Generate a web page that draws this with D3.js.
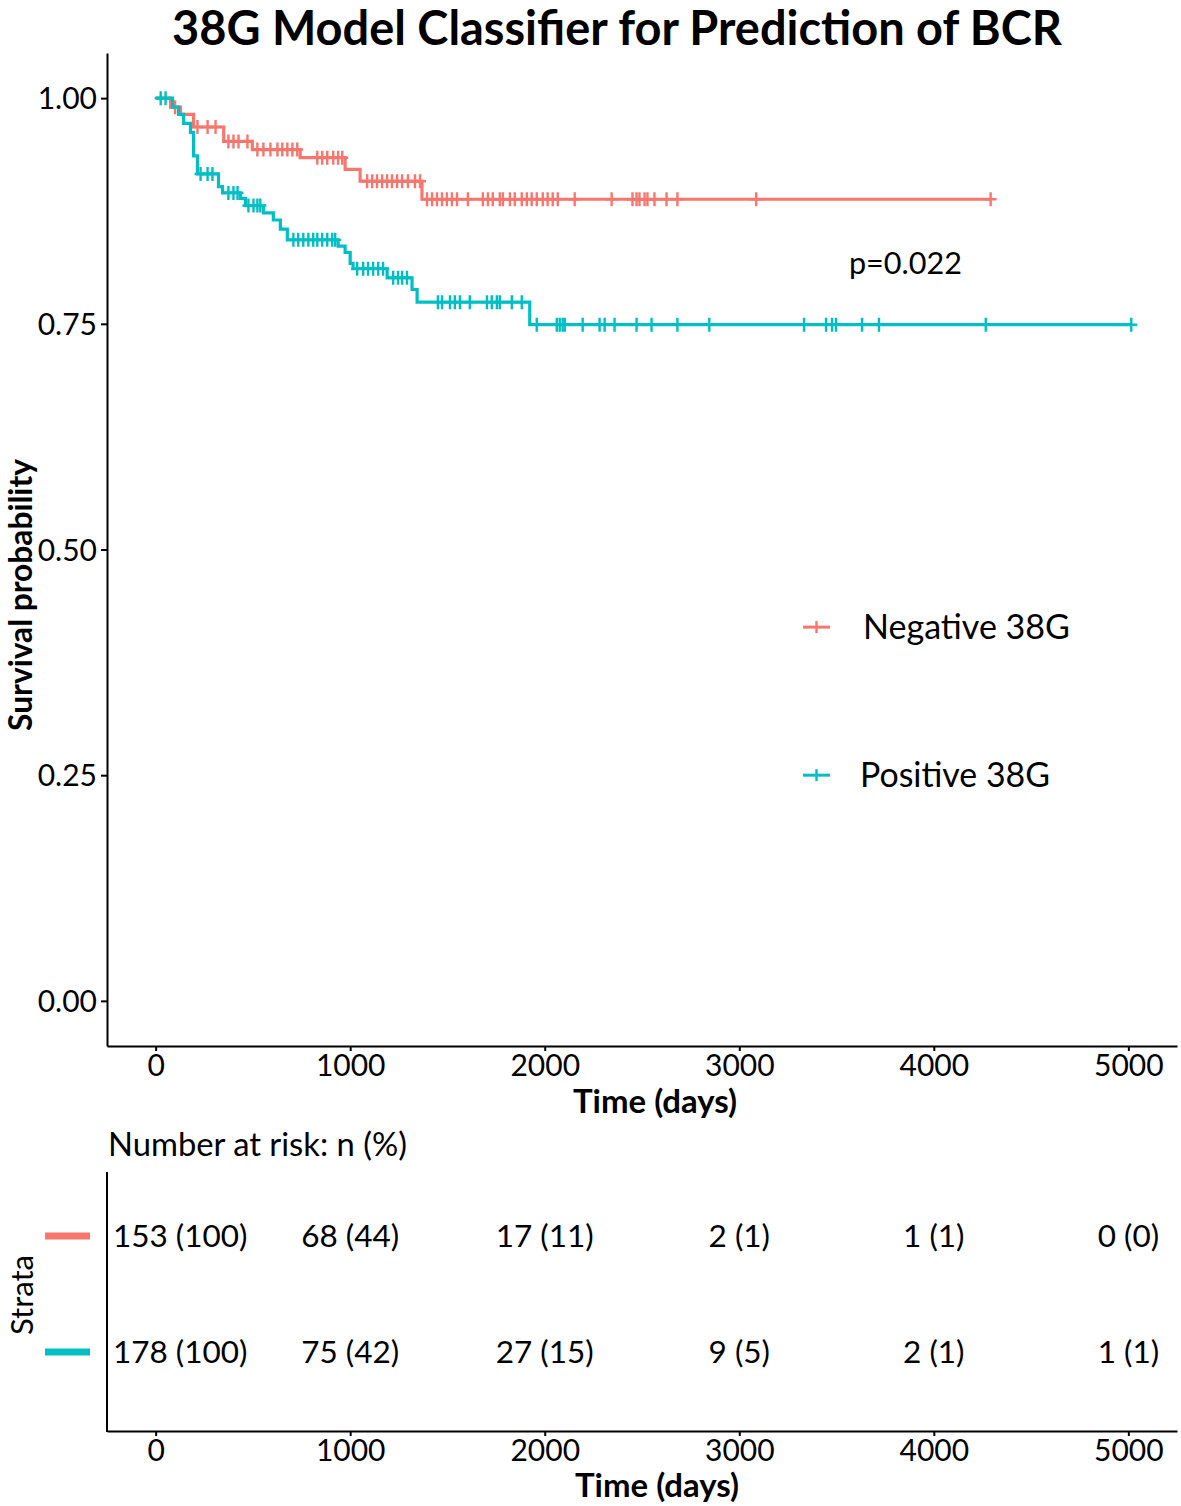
<!DOCTYPE html>
<html>
<head>
<meta charset="utf-8">
<script src="https://cdn.jsdelivr.net/npm/d3@7/dist/d3.min.js"></script>
<style>
  body { margin: 0; background: #fff; }
  text { font-family: Lato, "Open Sans", sans-serif; fill: #000; }
</style>
</head>
<body>
<div id="chart"></div>
<script>
const width = 1181
const height = 1506

const groups = ["Negative 38G", "Positive 38G"]
const colors = ["#F8766D", "#00BFC4"]

// Kaplan-Meier steps (time in days, survival after the drop)
const negTimes = [0, 77, 128, 195, 350, 497, 743, 974, 1051, 1369, 4292]
const negSurv  = [1, 0.99, 0.982, 0.968, 0.952, 0.943, 0.934, 0.921, 0.908, 0.888, 0.888]
const negCensor = [100, 215, 267, 308, 374, 400, 426, 472, 523, 554, 590, 626, 651, 677, 703, 728,
  831, 856, 882, 913, 938, 959, 1087, 1113, 1138, 1164, 1190, 1215, 1241, 1267, 1297, 1333, 1359,
  1395, 1421, 1446, 1472, 1497, 1523, 1549, 1605, 1682, 1708, 1733, 1769, 1785, 1821, 1846, 1882,
  1908, 1933, 1959, 1990, 2015, 2041, 2067, 2154, 2344, 2451, 2472, 2487, 2513, 2528, 2564, 2626,
  2682, 3087, 4292]

const posTimes = [0, 87, 118, 144, 179, 195, 215, 323, 344, 436, 462, 554, 605, 641, 677, 938, 974,
  1000, 1015, 1190, 1318, 1344, 1923, 5015]
const posSurv  = [1, 0.99, 0.982, 0.972, 0.962, 0.936, 0.916, 0.902, 0.895, 0.889, 0.881, 0.873,
  0.865, 0.855, 0.843, 0.836, 0.829, 0.817, 0.811, 0.801, 0.788, 0.774, 0.749, 0.749]
const posCensor = [26, 51, 231, 267, 292, 374, 400, 421, 477, 503, 523, 538, 708, 733, 759, 785, 810,
  831, 856, 882, 908, 923, 1036, 1067, 1092, 1118, 1144, 1169, 1221, 1246, 1267, 1292, 1451, 1472,
  1513, 1538, 1564, 1615, 1703, 1728, 1754, 1769, 1831, 1882, 1959, 2062, 2077, 2092, 2103, 2195,
  2282, 2308, 2359, 2472, 2549, 2682, 2846, 3333, 3446, 3477, 3497, 3631, 3718, 4267, 5015]

const xTicks = [0, 1000, 2000, 3000, 4000, 5000]
const yTicks = [0, 0.25, 0.5, 0.75, 1]
const yTickLabels = ["0.00", "0.25", "0.50", "0.75", "1.00"]

const riskTimes = [0, 1000, 2000, 3000, 4000, 5000]
const negRisk = ["153 (100)", "68 (44)", "17 (11)", "2 (1)", "1 (1)", "0 (0)"]
const posRisk = ["178 (100)", "75 (42)", "27 (15)", "9 (5)", "2 (1)", "1 (1)"]

const pValue = "p=0.022"

const curves = [
  { name: groups[0], color: colors[0], times: negTimes, surv: negSurv, censor: negCensor, risk: negRisk },
  { name: groups[1], color: colors[1], times: posTimes, surv: posSurv, censor: posCensor, risk: posRisk }
]

const svg = d3.select("#chart")
  .append("svg")
    .attr("width", width)
    .attr("height", height)

// shrink/grow a text's font so it spans the wanted width
function fit(sel, w) {
  const fs = parseFloat(sel.style("font-size"))
  const len = sel.node().getComputedTextLength()
  sel.style("font-size", (fs * w / len).toFixed(2) + "px")
  return sel
}

const x = d3.scaleLinear().domain([-250, 5250]).range([107, 1177])
const y = d3.scaleLinear().domain([-0.05, 1.05]).range([1046, 53])

// title
fit(svg.append("text")
  .attr("x", 617).attr("y", 45)
  .attr("text-anchor", "middle")
  .style("font-size", "38px").style("font-weight", "bold")
  .text("38G Model Classifier for Prediction of BCR"), 890)

// axes of main panel
const axisStyle = g => {
  g.selectAll(".domain").attr("stroke", "#000").attr("stroke-width", 2)
  g.selectAll(".tick line").attr("stroke", "#000").attr("stroke-width", 2)
  g.selectAll(".tick text").style("font-size", "30px").style("font-family", "Lato, 'Open Sans', sans-serif").attr("fill", "#000")
}

svg.append("g")
  .attr("transform", `translate(0,${y(-0.05)})`)
  .call(d3.axisBottom(x).tickValues(xTicks).tickFormat(d3.format("d")).tickSizeInner(5).tickSizeOuter(0).tickPadding(4))
  .call(axisStyle)

svg.append("g")
  .attr("transform", `translate(${x(-250)},0)`)
  .call(d3.axisLeft(y).tickValues(yTicks).tickFormat((d, i) => yTickLabels[i]).tickSizeInner(6).tickSizeOuter(0).tickPadding(4))
  .call(axisStyle)
  .selectAll(".tick text").attr("dy", "0.36em")

fit(svg.append("text")
  .attr("x", 655).attr("y", 1113)
  .attr("text-anchor", "middle")
  .style("font-size", "30px").style("font-weight", "bold")
  .text("Time (days)"), 164)

fit(svg.append("text")
  .attr("transform", "translate(32,595) rotate(-90)")
  .attr("text-anchor", "middle")
  .style("font-size", "28px").style("font-weight", "bold")
  .text("Survival probability"), 272)

// survival curves
const line = d3.line()
  .curve(d3.curveStepAfter)
  .x(d => x(d[0]))
  .y(d => y(d[1]))

function survAt(c, t) {
  const i = d3.bisectRight(c.times, t) - 1
  return c.surv[Math.max(0, i)]
}

const plot = svg.append("g")

curves.forEach(c => {
  plot.append("path")
    .datum(c.times.map((t, i) => [t, c.surv[i]]))
    .attr("d", line)
    .attr("fill", "none")
    .attr("stroke", c.color)
    .attr("stroke-width", 3.2)

  plot.append("g")
    .selectAll("path")
    .data(c.censor)
    .join("path")
      .attr("d", t => {
        const px = x(t), py = y(survAt(c, t))
        return `M${px - 6},${py}h12M${px},${py - 7}v14`
      })
      .attr("stroke", c.color)
      .attr("stroke-width", 2.4)
      .attr("fill", "none")
})

fit(svg.append("text")
  .attr("x", x(3564)).attr("y", y(0.817))
  .attr("dy", "0.35em")
  .style("font-size", "28px")
  .text(pValue), 113)

// legend
const legendY = [y(0.414), y(0.250)]
const legendTextX = [863, 860]
const legendW = [207, 190]
curves.forEach((c, i) => {
  const g = svg.append("g")
  g.append("line")
    .attr("x1", 803).attr("x2", 830)
    .attr("y1", legendY[i]).attr("y2", legendY[i])
    .attr("stroke", c.color).attr("stroke-width", 3)
  g.append("path")
    .attr("d", `M816.5,${legendY[i] - 6}v12`)
    .attr("stroke", c.color).attr("stroke-width", 2.4)
  fit(g.append("text")
    .attr("x", legendTextX[i]).attr("y", legendY[i])
    .attr("dy", "0.35em")
    .style("font-size", "31px")
    .text(c.name), legendW[i])
})

// risk table
fit(svg.append("text")
  .attr("x", 108).attr("y", 1145)
  .attr("dy", "0.35em")
  .style("font-size", "28px")
  .text("Number at risk: n (%)"), 299)

const ty = d3.scalePoint().domain(groups).range([1236, 1352])

svg.append("g")
  .attr("transform", "translate(0,1431)")
  .call(d3.axisBottom(x).tickValues(xTicks).tickFormat(d3.format("d")).tickSizeInner(5).tickSizeOuter(0).tickPadding(4))
  .call(axisStyle)

svg.append("line")
  .attr("x1", 107).attr("x2", 107)
  .attr("y1", 1172).attr("y2", 1432)
  .attr("stroke", "#000").attr("stroke-width", 2)

fit(svg.append("text")
  .attr("x", 657).attr("y", 1497)
  .attr("text-anchor", "middle")
  .style("font-size", "30px").style("font-weight", "bold")
  .text("Time (days)"), 164)

fit(svg.append("text")
  .attr("transform", "translate(33,1295) rotate(-90)")
  .attr("text-anchor", "middle")
  .style("font-size", "30px")
  .text("Strata"), 80)

curves.forEach(c => {
  const ry = ty(c.name)
  svg.append("line")
    .attr("x1", 45).attr("x2", 90)
    .attr("y1", ry).attr("y2", ry)
    .attr("stroke", c.color).attr("stroke-width", 7)

  svg.append("g")
    .selectAll("text")
    .data(riskTimes)
    .join("text")
      .attr("x", (t, i) => i === 0 ? x(-250) + 6 : x(t))
      .attr("y", ry)
      .attr("dy", "0.35em")
      .attr("text-anchor", (t, i) => i === 0 ? "start" : "middle")
      .style("font-size", "31.5px")
      .text((t, i) => c.risk[i])
})
</script>
</body>
</html>
